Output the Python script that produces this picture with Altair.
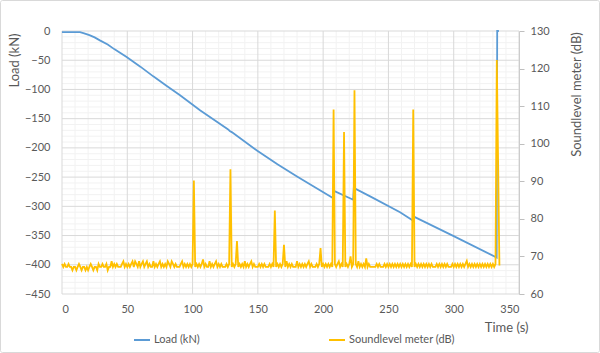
import altair as alt
import pandas as pd

# ---------------- data ----------------
load_t = [0, 13.8, 17, 21, 25, 29, 35, 40, 49.5, 60, 69.9, 80, 90.4, 105.7, 127, 128.5,
          130, 149, 165, 180, 195, 207.8, 208.3, 223, 223.5, 236, 258.9, 269, 269.5,
          300, 332.9, 333.3, 334.6]
load_kn = [-2, -2, -4, -7, -11, -16, -23, -31, -44.6, -61, -77.6, -93.5, -110, -135.7,
           -168, -171, -173, -204, -228, -249, -269, -286, -273.5, -288.7, -268.6, -283,
           -310, -324.6, -317.7, -351, -387.6, 0, 0]

sound_db = [
    68.0, 67.2, 68.0, 67.2, 67.2, 68.0, 67.2, 67.2, 66.3, 67.2, 67.2, 66.3, 67.2, 68.0, 67.2, 66.3, 67.2, 67.2, 66.3, 67.2,
    66.3, 67.2, 68.0, 67.2, 66.3, 67.2, 67.2, 66.3, 68.0, 67.2, 67.2, 68.0, 67.2, 67.2, 68.0, 66.3, 67.2, 67.2, 68.7, 67.2,
    68.0, 67.2, 68.0, 67.2, 67.2, 67.2, 68.0, 68.7, 67.2, 68.0, 67.2, 68.0, 67.2, 68.0, 68.7, 67.2, 68.7, 68.0, 67.2, 68.7,
    67.2, 68.0, 68.7, 67.2, 68.0, 68.7, 67.2, 68.0, 67.2, 67.2, 68.7, 67.2, 68.0, 67.2, 68.0, 68.7, 67.2, 68.0, 67.2, 68.0,
    67.2, 68.7, 68.0, 67.2, 68.7, 68.0, 67.2, 68.0, 67.2, 67.2, 67.2, 68.0, 68.7, 67.2, 68.0, 67.2, 68.0, 67.2, 68.0, 67.2,
    68.0, 90.2, 67.2, 68.0, 67.2, 68.0, 67.2, 68.0, 69.2, 67.2, 68.0, 67.2, 67.2, 68.7, 67.2, 68.0, 67.2, 68.0, 68.7, 67.2,
    68.0, 67.2, 68.0, 67.2, 67.2, 67.2, 68.0, 67.2, 68.0, 93.2, 67.2, 68.0, 67.2, 68.0, 74.1, 67.2, 68.0, 67.2, 68.0, 67.2,
    68.7, 67.2, 68.0, 67.2, 68.0, 68.7, 67.2, 68.0, 67.2, 67.2, 67.2, 68.0, 67.2, 68.0, 67.2, 68.0, 67.2, 67.2, 67.2, 68.0,
    67.2, 68.0, 67.2, 82.2, 67.2, 68.0, 67.2, 68.0, 67.2, 68.0, 73.1, 67.2, 68.7, 67.2, 68.0, 67.2, 68.0, 67.2, 67.2, 67.2,
    68.7, 67.2, 68.0, 67.2, 68.0, 67.2, 68.0, 67.2, 68.0, 68.7, 67.2, 68.0, 67.2, 67.2, 67.2, 68.0, 67.2, 68.0, 72.2, 67.2,
    68.0, 67.2, 68.0, 67.2, 68.0, 67.2, 68.0, 67.2, 109.1, 68.0, 67.2, 68.0, 68.7, 67.2, 68.0, 67.2, 103.1, 67.2, 68.0, 67.2,
    68.0, 70.0, 67.2, 68.0, 114.2, 68.0, 67.2, 68.7, 67.2, 68.0, 67.2, 68.0, 67.2, 69.5, 67.2, 68.0, 67.2, 67.2, 67.2, 67.2,
    67.2, 68.0, 67.2, 68.0, 67.2, 67.2, 67.2, 68.0, 67.2, 68.0, 67.2, 68.0, 67.2, 68.0, 67.2, 68.0, 67.2, 68.0, 67.2, 68.0,
    67.2, 68.0, 67.2, 68.0, 67.2, 68.0, 67.2, 68.0, 67.2, 109.1, 67.2, 68.0, 67.2, 68.0, 67.2, 68.0, 67.2, 68.0, 67.2, 68.0,
    67.2, 68.0, 67.2, 68.0, 67.2, 67.2, 67.2, 68.0, 67.2, 68.0, 67.2, 68.0, 67.2, 68.0, 67.2, 68.0, 67.2, 67.2, 67.2, 68.0,
    67.2, 68.0, 67.2, 68.0, 67.2, 68.0, 67.2, 68.0, 67.2, 68.0, 68.8, 67.2, 68.0, 67.2, 68.0, 67.2, 68.0, 67.2, 68.0, 67.2,
    68.0, 67.2, 68.0, 67.2, 68.0, 67.2, 68.0, 67.2, 68.0, 67.2, 68.0, 67.2, 68.0, 122.3, 95.0, 67.6,
]
sound_t = list(range(len(sound_db)))  # one sample per second

x_ticks = [0, 50, 100, 150, 200, 250, 300, 350]
x_minor = [v for v in range(0, 351, 10) if v % 50]
y_left_ticks = [0, -50, -100, -150, -200, -250, -300, -350, -400, -450]
y_left_minor = [v for v in range(-450, 1, 10) if v % 50]
y_right_ticks = [60, 70, 80, 90, 100, 110, 120, 130]

series_names = ["Load (kN)", "Soundlevel meter (dB)"]
series_colors = ["#5B9BD5", "#FFC000"]

# ---------------- frames ----------------
load_df = pd.DataFrame({"t": load_t, "v": load_kn, "series": series_names[0]})
sound_df = pd.DataFrame({"t": sound_t, "v": sound_db, "series": series_names[1]})

FONT = "Lato"
TXT = "#595959"
xscale = alt.Scale(domain=[0, 350], nice=False, zero=False)
yl_scale = alt.Scale(domain=[-450, 0], nice=False, zero=False)
yr_scale = alt.Scale(domain=[60, 130], nice=False, zero=False)

x_axis = alt.Axis(values=x_ticks, grid=False, domain=False, ticks=False,
                  title="Time (s)", titleX=466, titleY=33, titleAlign="right",
                  titleBaseline="middle", titleFont=FONT, titleFontSize=13,
                  titleFontWeight="normal", titleColor=TXT,
                  labelFont=FONT, labelFontSize=11, labelColor=TXT, labelPadding=9)
yl_axis = alt.Axis(values=y_left_ticks, grid=False, domain=False, ticks=False,
                   title="Load (kN)", titleAngle=-90, titleX=-48, titleY=29,
                   titleAlign="center", titleBaseline="middle",
                   titleFont=FONT, titleFontSize=13, titleFontWeight="normal",
                   titleColor=TXT, labelFont=FONT, labelFontSize=11,
                   labelColor=TXT, labelPadding=12)
yr_axis = alt.Axis(orient="right", values=y_right_ticks, grid=False, domain=True,
                   domainColor="#bfbfbf", ticks=True, tickColor="#bfbfbf", tickSize=5,
                   title="Soundlevel meter (dB)", titleAngle=-90, titleX=57, titleY=63,
                   titleAlign="center", titleBaseline="middle",
                   titleFont=FONT, titleFontSize=13, titleFontWeight="normal",
                   titleColor=TXT, labelFont=FONT, labelFontSize=11,
                   labelColor=TXT, labelPadding=6)

color = alt.Color("series:N",
                  scale=alt.Scale(domain=series_names, range=series_colors),
                  legend=alt.Legend(title=None, orient="none", direction="horizontal",
                                    legendX=71, legendY=300, columns=2, columnPadding=125,
                                    symbolType="stroke", symbolSize=256, symbolStrokeWidth=2,
                                    labelFont=FONT, labelFontSize=11, labelColor=TXT,
                                    labelOffset=3, padding=0))

minor_v = alt.Chart(pd.DataFrame({"t": x_minor})).mark_rule(color="#f2f2f2", strokeWidth=1).encode(
    x=alt.X("t:Q", scale=xscale, axis=x_axis))
major_v = alt.Chart(pd.DataFrame({"t": x_ticks})).mark_rule(color="#d9d9d9", strokeWidth=1).encode(
    x=alt.X("t:Q", scale=xscale, axis=x_axis))
minor_h = alt.Chart(pd.DataFrame({"v": y_left_minor})).mark_rule(color="#f2f2f2", strokeWidth=1).encode(
    y=alt.Y("v:Q", scale=yl_scale, axis=yl_axis))
major_h = alt.Chart(pd.DataFrame({"v": y_left_ticks})).mark_rule(color="#d9d9d9", strokeWidth=1).encode(
    y=alt.Y("v:Q", scale=yl_scale, axis=yl_axis))

load_line = alt.Chart(load_df).mark_line(strokeWidth=1.8).encode(
    x=alt.X("t:Q", scale=xscale, axis=x_axis),
    y=alt.Y("v:Q", scale=yl_scale, axis=yl_axis),
    color=color,
)

sound_line = alt.Chart(sound_df).mark_line(strokeWidth=1.8).encode(
    x=alt.X("t:Q", scale=xscale, axis=x_axis),
    y=alt.Y("v:Q", scale=yr_scale, axis=yr_axis),
    color=color,
)

border = alt.Chart(pd.DataFrame({"a": [0]})).mark_rect(
    fill="transparent", stroke="#d9d9d9", strokeWidth=1, cornerRadius=2).encode(
    x=alt.value(-61.5), x2=alt.value(537.5), y=alt.value(-30.5), y2=alt.value(321.5))

left = alt.layer(minor_v, minor_h, major_v, major_h, load_line)
chart = alt.layer(left, sound_line, border).resolve_scale(y="independent").properties(
    width=457, height=263,
    autosize=alt.AutoSizeParams(type="none"),
    padding={"left": 62, "top": 31, "right": 81, "bottom": 59},
    background="white",
).configure_view(strokeWidth=0)

chart.save("out.html", embed_options={"renderer": "svg", "actions": False})
